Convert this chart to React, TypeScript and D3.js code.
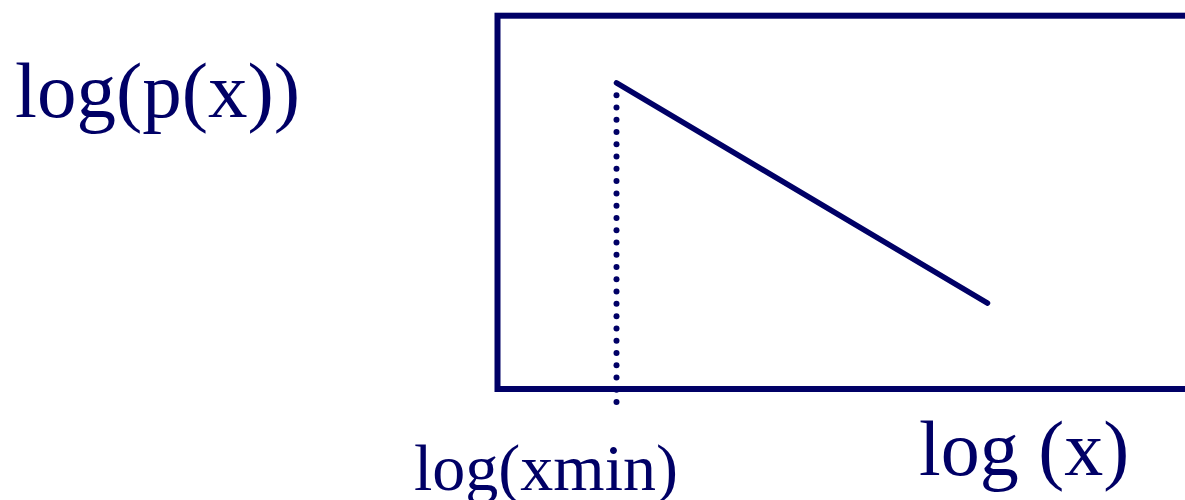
import React from "react";
import * as d3 from "d3";

// Schematic power-law: straight line on log-log axes, starting at log(xmin)
const xDomain = [0, 7];
const yDomain = [0, 4];
const logXmin = 1.19;
const powerLawLine: [number, number][] = [
  [1.19, 3.28],
  [4.9, 0.92],
];
const xminGuideBottom = -0.14;

const axisLabels = {
  y: "log(p(x))",
  x: "log (x)",
  xmin: "log(xmin)",
};

const INK = "#000066";
const W = 1185;
const H = 500;
const DOT_GAP = 12.28;

export default function App() {
  const x = d3.scaleLinear().domain(xDomain).range([497.5, 1197.5]);
  const y = d3.scaleLinear().domain(yDomain).range([389, 15.7]);

  const line = d3
    .line<[number, number]>()
    .x((d) => x(d[0]))
    .y((d) => y(d[1]));

  // dots of the xmin guide, evenly spaced from the line start down past the axis
  const gx = x(logXmin);
  const gTop = y(powerLawLine[0][1]);
  const gBottom = y(xminGuideBottom);
  const nDots = Math.round((gBottom - gTop) / DOT_GAP);
  const dots = d3.range(1, nDots + 1).map((i) => gTop + ((gBottom - gTop) * i) / nDots);

  const font = "'Liberation Serif', 'Times New Roman', serif";

  return (
    <svg
      width={W}
      height={H}
      style={{ position: "absolute", left: 0, top: 0, background: "#fff" }}
    >
      {/* plot frame */}
      <rect
        x={x(xDomain[0])}
        y={y(yDomain[1])}
        width={x(xDomain[1]) - x(xDomain[0])}
        height={y(yDomain[0]) - y(yDomain[1])}
        fill="none"
        stroke={INK}
        strokeWidth={6}
      />
      {/* dotted guide at xmin */}
      {dots.map((cy, i) => (
        <circle key={i} cx={gx} cy={cy} r={3} fill={INK} />
      ))}
      {/* power-law line */}
      <path
        d={line(powerLawLine) || ""}
        fill="none"
        stroke={INK}
        strokeWidth={5.5}
        strokeLinecap="round"
      />
      <text x={15} y={117} fontFamily={font} fontSize={79} fill={INK}>
        {axisLabels.y}
      </text>
      <text x={414} y={490} fontFamily={font} fontSize={66} fill={INK}>
        {axisLabels.xmin}
      </text>
      <text x={919} y={475} fontFamily={font} fontSize={78} fill={INK}>
        {axisLabels.x}
      </text>
    </svg>
  );
}
